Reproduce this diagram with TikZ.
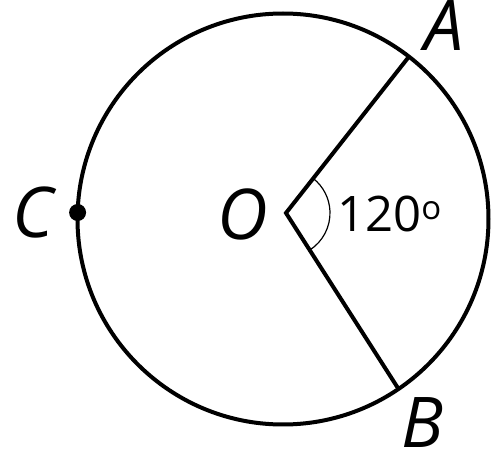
\documentclass[tikz,border=0pt]{standalone}
\usepackage{fontspec}
\setmainfont{Open Sans}
\usetikzlibrary{calc,angles}
\begin{document}
\begin{tikzpicture}[x=1pt,y=1pt,
  thick line/.style={line width=4pt},
  ptlabel/.style={inner sep=0pt, font=\fontsize{70}{70}\selectfont\itshape},
  anglabel/.style={inner sep=0pt, anchor=base west, font=\fontsize{49}{49}\selectfont}]
\useasboundingbox (0,0) rectangle (491,456);
\coordinate (Ctr) at (283,237);
\coordinate (O) at (286,243);
\coordinate (A) at ($(Ctr)+(52.2:205.5)$);
\coordinate (B) at ($(Ctr)+(-55.8:205.5)$);
\coordinate (C) at (77.6,243.5);
\draw[thick line] (Ctr) circle[radius=205.5];
\draw[thick line, line join=miter] (A) -- (O) -- (B);
\pic[draw, line width=1.2pt, angle radius=44pt] {angle=B--O--A};
\fill (C) circle[radius=8.5];
\node[ptlabel] (lA) at (444,430) {A};
\node[ptlabel] (lB) at (423,33) {B};
\node[ptlabel] (lC) at (33,244) {C};
\node[ptlabel] (lO) at (243,242) {O};
\node[anglabel] (ang) at (337,224) {120\raisebox{12pt}{\fontsize{33}{33}\selectfont o}};
\end{tikzpicture}
\end{document}
